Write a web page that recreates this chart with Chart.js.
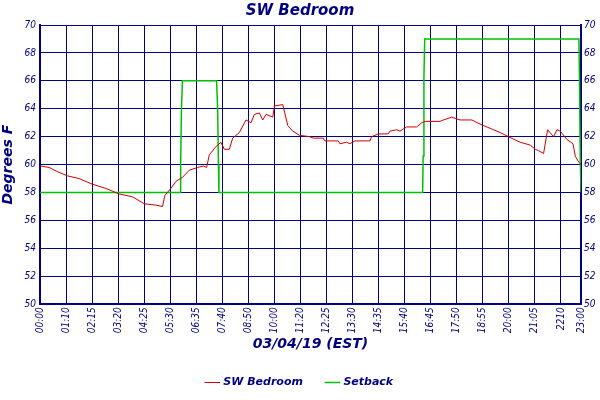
<!DOCTYPE html>
<html><head><meta charset="utf-8">
<script src="https://cdn.jsdelivr.net/npm/chart.js@4/dist/chart.umd.min.js"></script>
<style>html,body{margin:0;padding:0;background:#fff}#w{width:600px;height:400px}</style>
</head><body><div id="w"><canvas id="c"></canvas></div>
<script>
const tickLabels=["00:00","01:10","02:15","03:20","04:25","05:30","06:35","07:40","08:50","10:00","11:20","12:25","13:30","14:35","15:40","16:45","17:50","18:55","20:00","21:05","2210","23:00"];
const tickPos=[0,1,2,3,4,5,6,7,8,9,10,11,12,13,14,15,16,17,18,19,20,20.77];
// zoomed-pixel readings -> converted to index units below
const redA_x=[125,150,175,205,240,280,320,360,400,435,470,490,497,515,530,550,570,595,612,622,630,650,665,675,690,700,720,740,755,765,780,790,800,820,825,850,865,880,900];
const redA_t=[59.9,59.8,59.5,59.2,59.0,58.6,58.3,57.9,57.7,57.2,57.1,57.0,57.8,58.3,58.8,59.1,59.6,59.8,59.9,59.8,60.7,61.3,61.6,61.1,61.1,61.9,62.3,63.2,63.0,63.6,63.7,63.2,63.6,63.4,64.2,64.3,62.8,62.4,62.1];
const redB_x=[30,40,70,75,115,120,140,150,165,210,215,235,265,270,290,300,320,350,365,375,420,430,455,480,515,540,570,600,625,660,690,705,715,730,742,760,770,780,800,818,825,835,842];
const redB_t=[62.0,61.9,61.9,61.7,61.7,61.5,61.6,61.5,61.7,61.7,62.0,62.2,62.2,62.4,62.5,62.4,62.7,62.7,63.0,63.1,63.1,63.2,63.4,63.2,63.2,62.9,62.6,62.3,62.0,61.6,61.4,61.1,61.0,60.8,62.5,62.0,62.5,62.4,61.8,61.5,60.6,60.2,60.0];
const setbackX=[0,5.38,5.40,5.43,5.47,6.78,6.82,6.85,6.87,14.69,14.71,14.74,14.77,20.69,20.71,20.74,20.77];
const setbackT=[58,58,60,64,66,66,64,60,58,58,60.6,66.3,69,69,66.3,60.6,58];
const redData=redA_x.map((x,i)=>({x:(x-123)/78,y:redA_t[i]})).concat(redB_x.map((x,i)=>({x:Math.min(20.77,10+(x-2)/78),y:redB_t[i]})));
const greenData=setbackX.map((x,i)=>({x:x,y:setbackT[i]}));
const navy='#000080';
const tf={family:'DejaVu Sans Condensed',style:'italic',size:10};
new Chart(document.getElementById('c'),{
type:'line',
data:{datasets:[
{label:'SW Bedroom',data:redData,borderColor:'#cc0000',backgroundColor:'#cc0000',borderWidth:1,pointRadius:0,tension:0},
{label:'Setback',data:greenData,borderColor:'#00c000',backgroundColor:'#00c000',borderWidth:1.5,pointRadius:0,tension:0}
]},
options:{animation:false,responsive:true,maintainAspectRatio:false,
layout:{padding:{left:0,right:0,top:0,bottom:2}},
plugins:{
title:{display:true,text:'SW Bedroom',color:navy,font:{family:'DejaVu Sans',style:'italic',weight:'bold',size:15},padding:{top:2,bottom:5}},
legend:{position:'bottom',labels:{color:navy,usePointStyle:true,pointStyle:'line',boxWidth:16,font:{family:'DejaVu Sans',style:'italic',weight:'bold',size:11},padding:24}},
tooltip:{enabled:false}},
scales:{
x:{type:'linear',min:0,max:20.77,
afterBuildTicks:s=>{s.ticks=tickPos.map(v=>({value:v}));},
ticks:{color:navy,font:tf,maxRotation:90,minRotation:90,autoSkip:false,padding:3,callback:(v,i)=>tickLabels[i]},
grid:{color:navy,lineWidth:1,drawTicks:false},border:{color:navy,width:2},
title:{display:true,text:'03/04/19 (EST)',color:navy,font:{family:'DejaVu Sans',style:'italic',weight:'bold',size:14},padding:{top:0,bottom:0}}},
y:{min:50,max:70,position:'left',afterFit:s=>{s.width=40;},
ticks:{stepSize:2,color:navy,font:tf,padding:4},
grid:{color:navy,lineWidth:1,drawTicks:false},border:{color:navy,width:2},
title:{display:true,text:'Degrees F',color:navy,font:{family:'DejaVu Sans',style:'italic',weight:'bold',size:14},padding:0}},
y2:{min:50,max:70,position:'right',afterFit:s=>{s.width=19;},
ticks:{stepSize:2,color:navy,font:tf,padding:3},
grid:{display:false,drawTicks:false},border:{color:navy,width:2}}
}}});
</script></body></html>
